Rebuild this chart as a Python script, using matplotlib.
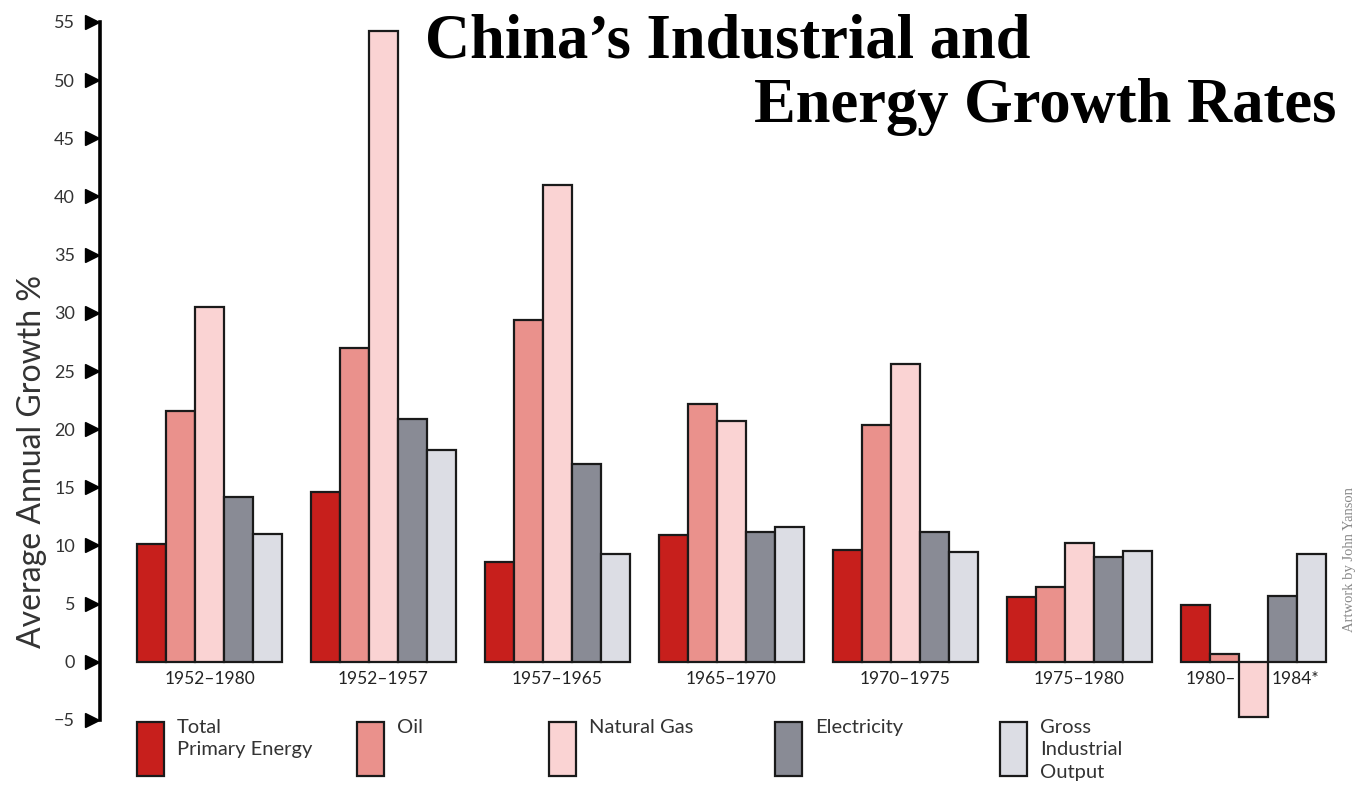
import numpy as np
import matplotlib.pyplot as plt
import matplotlib.transforms as mtransforms
from matplotlib.patches import Rectangle

periods = ["1952–1980", "1952–1957", "1957–1965", "1965–1970",
           "1970–1975", "1975–1980", "1980–1984*"]
series = ["Total\nPrimary Energy", "Oil", "Natural Gas", "Electricity",
          "Gross\nIndustrial\nOutput"]
total_energy = [10.1, 14.6, 8.6, 10.9, 9.6, 5.6, 4.9]
oil = [21.6, 27.0, 29.4, 22.2, 20.4, 6.4, 0.7]
natural_gas = [30.5, 54.2, 41.0, 20.7, 25.6, 10.2, -4.7]
electricity = [14.2, 20.9, 17.0, 11.2, 11.2, 9.0, 5.7]
gross_output = [11.0, 18.2, 9.3, 11.6, 9.4, 9.5, 9.3]
yticks = list(range(-5, 60, 5))

colors = ["#c71f1c", "#ea918c", "#fad3d3", "#898b95", "#dcdde4"]
values = [total_energy, oil, natural_gas, electricity, gross_output]

W, H = 1358, 787
fig = plt.figure(figsize=(W / 100, H / 100), dpi=100)
ax = fig.add_axes([100 / W, 1 - 720 / H, 1240 / W, 698 / H])

font = ["Lato", "DejaVu Sans"]
serif = ["Liberation Serif", "DejaVu Serif"]
centers = np.arange(len(periods)) * 6.0
for j, (vals, c) in enumerate(zip(values, colors)):
    ax.bar(centers + (j - 2), vals, width=1.0, color=c, edgecolor="#1a1a1a",
           linewidth=1.6, zorder=3)

ax.set_xlim(-3.78, 39.0)
ax.set_ylim(-5, 55)
for s in ["top", "right", "bottom"]:
    ax.spines[s].set_visible(False)
ax.spines["left"].set_linewidth(2.6)
ax.spines["left"].set_color("black")
ax.set_xticks([])
ax.set_yticks(yticks)
ax.set_yticklabels([str(t).replace("-", "−") for t in yticks],
                   fontsize=13, color="#333333", family=font)
ax.tick_params(axis="y", length=0, pad=18)

trans = mtransforms.blended_transform_factory(ax.transAxes, ax.transData)
ax.plot([-0.0065] * len(yticks), yticks, ls="none", marker=">", ms=10.5,
        color="black", transform=trans, clip_on=False)

# group labels
for c, p in zip(centers[:-1], periods[:-1]):
    ax.annotate(p, (c, 0), xytext=(0, -12), textcoords="offset points",
                ha="center", va="center", fontsize=12.5, color="#222222",
                family=font)
first, second = periods[-1].split("–")
ax.annotate(first + "–", (centers[-1] - 0.5, 0), xytext=(-2, -12),
            textcoords="offset points", ha="right", va="center",
            fontsize=12.5, color="#222222", family=font)
ax.annotate(second, (centers[-1] + 0.5, 0), xytext=(3, -12),
            textcoords="offset points", ha="left", va="center",
            fontsize=12.5, color="#222222", family=font)

# y label
fig.text(32 / W, 1 - 462 / H, "Average Annual Growth %", rotation=90,
         ha="center", va="center", fontsize=23, color="#333333", family=font)

# legend
leg_x = [137, 357, 549, 775, 1000]
for x0, c, lab in zip(leg_x, colors, series):
    fig.add_artist(Rectangle((x0 / W, 1 - 776 / H), 27 / W, 54 / H,
                             facecolor=c, edgecolor="#1a1a1a", linewidth=1.6,
                             transform=fig.transFigure))
    fig.text((x0 + 40) / W, 1 - 719 / H, lab, ha="left", va="top",
             fontsize=14.5, color="#333333", family=font, linespacing=1.38)

# title
fig.text(425 / W, 1 - 57 / H, "China’s Industrial and", ha="left",
         va="baseline", fontsize=45, fontweight="bold", family=serif,
         color="black")
fig.text(1336 / W, 1 - 122 / H, "Energy Growth Rates", ha="right",
         va="baseline", fontsize=45, fontweight="bold", family=serif,
         color="black")

fig.text(1349 / W, 1 - 560 / H, "Artwork by John Yanson", rotation=90,
         ha="center", va="center", fontsize=10.5, color="#888888",
         family=serif)

fig.savefig("out.png", dpi=100)
